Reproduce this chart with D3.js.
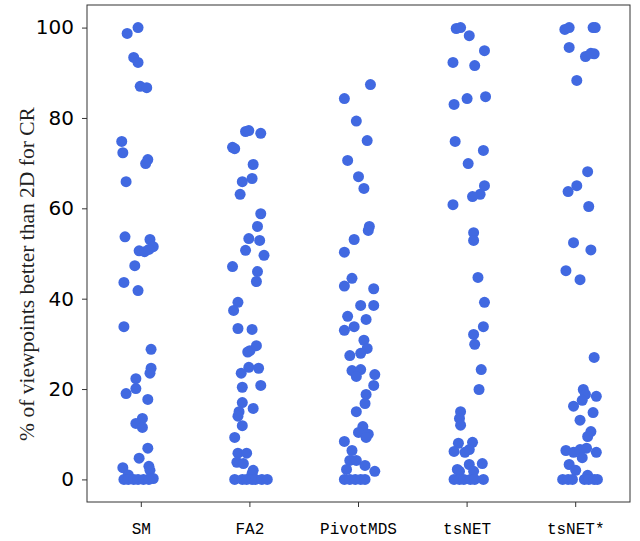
<!DOCTYPE html>
<html>
<head>
<meta charset="utf-8">
<script src="https://cdn.jsdelivr.net/npm/d3@7"></script>
<style>
  body { margin: 0; background: #fff; }
</style>
</head>
<body>
<div id="chart"></div>
<script>
const width = 640;
const height = 541;

// categories on the x axis
const methods = ['SM', 'FA2', 'PivotMDS', 'tsNET', 'tsNET*'];
const yTicks = [0, 20, 40, 60, 80, 100];

// each point: [percent, jitter (in category widths)]
const smPoints = [
  [100, -0.03], [98.7, -0.13], [93.4, -0.07], [92.3, -0.03], [87.0, -0.01], [86.7, 0.05],
  [74.8, -0.18], [72.3, -0.17], [70.8, 0.06], [69.9, 0.04], [65.9, -0.14],
  [53.7, -0.15], [53.1, 0.08], [51.5, 0.11], [50.6, -0.02], [50.4, 0.03], [50.9, 0.07],
  [47.3, -0.06], [43.6, -0.16], [41.8, -0.03], [33.8, -0.16], [28.8, 0.09],
  [24.6, 0.09], [23.5, 0.08], [22.3, -0.05], [20.1, -0.05], [19.0, -0.14], [17.7, 0.06],
  [13.5, 0.01], [12.4, -0.05], [11.5, 0.01], [6.9, 0.06], [4.7, -0.02],
  [2.6, -0.17], [2.9, 0.07], [2.0, 0.08], [0.2, 0.11], [1.0, -0.12],
  [0, -0.16], [0, -0.12], [0, -0.07], [0, -0.03], [0, 0.02], [0, 0.07]
];
const fa2Points = [
  [77.0, -0.04], [77.2, -0.01], [76.6, 0.10], [73.5, -0.16], [73.2, -0.14],
  [69.7, 0.03], [66.6, 0.02], [65.9, -0.07], [63.1, -0.09], [58.8, 0.10], [56.0, 0.07],
  [53.3, -0.01], [52.9, 0.09], [50.7, -0.04], [49.6, 0.13], [47.1, -0.16], [46.0, 0.07],
  [43.8, 0.06], [39.2, -0.11], [37.4, -0.15], [33.4, -0.11], [33.2, 0.02],
  [29.6, 0.06], [28.5, 0.00], [28.2, -0.02], [24.8, -0.01], [24.6, 0.08], [23.5, -0.08],
  [20.8, 0.10], [20.4, -0.07], [17.0, -0.07], [15.7, 0.03], [15.0, -0.10], [14.0, -0.11],
  [11.9, -0.07], [9.3, -0.14], [5.8, -0.11], [5.8, -0.03], [3.8, -0.12], [3.5, -0.06],
  [2.0, 0.03], [1.3, 0.02],
  [0, -0.14], [0, -0.07], [0, -0.03], [0, 0.02], [0, 0.05], [0, 0.11], [0, 0.16]
];
const pivotPoints = [
  [87.4, 0.11], [84.3, -0.13], [79.3, -0.02], [75.0, 0.08], [70.6, -0.10], [67.0, 0.00],
  [64.4, 0.05], [56.0, 0.10], [55.1, 0.09], [53.1, -0.04], [50.3, -0.13],
  [44.5, -0.06], [42.8, -0.13], [42.2, 0.14], [38.5, 0.02], [38.5, 0.14], [36.1, -0.10],
  [35.4, 0.07], [33.8, -0.04], [33.0, -0.13], [30.8, 0.05], [29.0, 0.08], [27.9, 0.02],
  [27.4, -0.08], [24.1, -0.06], [24.3, 0.02], [22.8, -0.02], [23.2, 0.15], [20.8, 0.14],
  [18.8, 0.07], [16.8, 0.06], [15.0, -0.02], [11.7, 0.04], [10.4, 0.00], [10.0, 0.09],
  [9.3, 0.07], [8.4, -0.13], [6.4, -0.06], [4.2, -0.08], [4.2, -0.02], [3.1, 0.06],
  [2.2, -0.11], [1.8, 0.15],
  [0, -0.13], [0, -0.08], [0, -0.03], [0, 0.02], [0, 0.06]
];
const tsnetPoints = [
  [99.8, -0.10], [100, -0.06], [98.2, 0.02], [94.9, 0.16], [92.3, -0.13], [91.6, 0.07],
  [84.7, 0.17], [84.3, 0.00], [83.0, -0.12], [74.8, -0.11], [72.8, 0.15], [69.9, 0.01],
  [65.0, 0.16], [63.1, 0.12], [62.6, 0.05], [60.8, -0.13], [54.6, 0.06], [52.9, 0.06],
  [44.7, 0.10], [39.2, 0.16], [33.8, 0.15], [32.1, 0.06], [29.9, 0.07], [24.3, 0.13],
  [19.9, 0.11], [15.0, -0.06], [13.5, -0.07], [12.0, -0.06], [8.0, -0.08], [8.2, 0.05],
  [6.2, -0.12], [6.0, -0.02], [6.6, 0.02], [3.3, 0.02], [3.5, 0.14], [2.2, -0.09],
  [1.8, -0.07], [1.8, 0.06],
  [0, -0.12], [0, -0.07], [0, -0.03], [0, 0.03], [0, 0.07], [0, 0.15]
];
const tsnetStarPoints = [
  [99.6, -0.10], [100, -0.06], [100, 0.16], [100, 0.18], [95.6, -0.06], [93.6, 0.09],
  [94.2, 0.17], [94.3, 0.14], [88.3, 0.01], [68.1, 0.11], [65.0, 0.01], [63.7, -0.07],
  [60.4, 0.12], [52.4, -0.02], [50.8, 0.14], [46.2, -0.09], [44.2, 0.04], [27.0, 0.17],
  [19.9, 0.07], [18.8, 0.09], [17.5, 0.06], [18.4, 0.19], [16.2, -0.02], [14.8, 0.16],
  [13.1, 0.04], [10.6, 0.14], [9.5, 0.11], [6.4, -0.09], [6.0, -0.02], [6.6, 0.04],
  [6.9, 0.10], [4.8, 0.06], [6.0, 0.19], [3.3, -0.06], [2.0, 0.00], [0.9, 0.11],
  [0, -0.12], [0, -0.07], [0, -0.03], [0, 0.08], [0, 0.12], [0, 0.17], [0, 0.20]
];

const series = [smPoints, fa2Points, pivotPoints, tsnetPoints, tsnetStarPoints];

const margin = {top: 5, right: 10, bottom: 39, left: 87};

const svg = d3.select('#chart')
  .append('svg')
  .attr('width', width)
  .attr('height', height);

const x = d3.scaleBand()
  .domain(methods)
  .range([margin.left, width - margin.right])
  .padding(0);

const y = d3.scaleLinear()
  .domain([-5, 105])
  .range([height - margin.bottom, margin.top]);

// points
const flat = series.flatMap((pts, i) =>
  pts.map(([v, j]) => ({method: methods[i], value: v, jitter: j})));

svg.append('g')
  .selectAll('circle')
  .data(flat)
  .join('circle')
    .attr('cx', d => x(d.method) + x.bandwidth() / 2 + d.jitter * x.bandwidth())
    .attr('cy', d => y(d.value))
    .attr('r', 5.5)
    .attr('fill', '#4169e1');

// axes
const yAxis = svg.append('g')
  .attr('transform', `translate(${margin.left},0)`)
  .call(d3.axisLeft(y).tickValues(yTicks).tickSize(5).tickPadding(8));
yAxis.select('.domain').remove();
yAxis.selectAll('text')
  .attr('font-family', 'DejaVu Sans')
  .attr('font-size', 20)
  .attr('fill', '#000');

const xAxis = svg.append('g')
  .attr('transform', `translate(0,${height - margin.bottom})`)
  .call(d3.axisBottom(x).tickSize(5).tickPadding(16));
xAxis.select('.domain').remove();
xAxis.selectAll('text')
  .attr('font-family', 'Liberation Mono')
  .attr('font-size', 16)
  .attr('fill', '#000');
svg.selectAll('.tick line').attr('stroke', '#333');

// frame
svg.append('rect')
  .attr('x', margin.left)
  .attr('y', margin.top)
  .attr('width', width - margin.left - margin.right)
  .attr('height', height - margin.top - margin.bottom)
  .attr('fill', 'none')
  .attr('stroke', '#333')
  .attr('stroke-width', 1);

// y label
svg.append('text')
  .attr('transform', 'translate(34,274) rotate(-90)')
  .attr('text-anchor', 'middle')
  .attr('font-family', 'Liberation Serif')
  .attr('font-size', 21.5)
  .attr('fill', '#222')
  .text('% of viewpoints better than 2D for CR');
</script>
</body>
</html>
